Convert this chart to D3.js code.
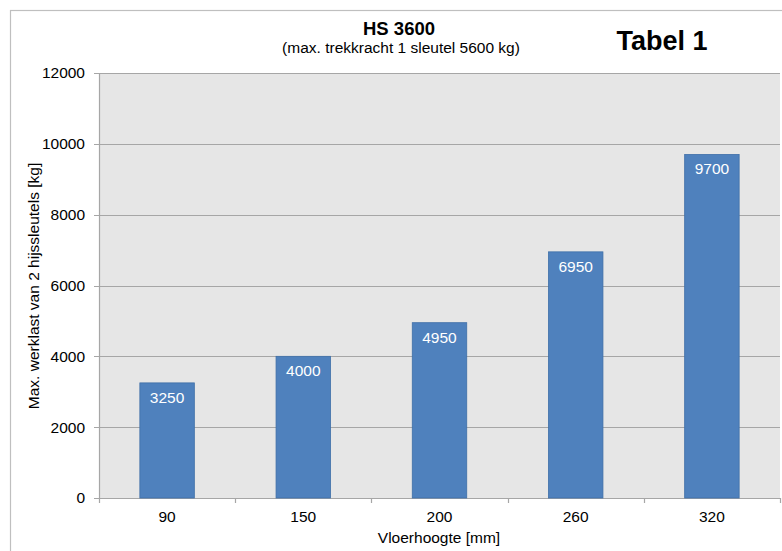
<!DOCTYPE html>
<html><head><meta charset="utf-8">
<script src="https://cdn.jsdelivr.net/npm/d3@7"></script>
<style>body{margin:0;background:#fff;} svg{display:block;font-family:"Liberation Sans",Arial,sans-serif;}</style>
</head><body>
<svg id="c" width="782" height="551"></svg>
<script>
const categories = ["90","150","200","260","320"];
const values = [3250, 4000, 4950, 6950, 9700];
const yTicks = [0,2000,4000,6000,8000,10000,12000];
const title = "HS 3600";
const subtitle = "(max. trekkracht 1 sleutel 5600 kg)";
const tag = "Tabel 1";
const xTitle = "Vloerhoogte [mm]";
const yTitle = "Max. werklast van 2 hijssleutels [kg]";

const FS = 15.5;
const svg = d3.select("#c");
const L = 99, R = 780, T = 73, B = 498;

svg.append("rect").attr("x",10.5).attr("y",10.5).attr("width",790).attr("height",560)
  .attr("fill","#fff").attr("stroke","#bfbfbf").attr("stroke-width",1.2);

const x = d3.scaleBand().domain(categories).range([L,R]).paddingInner(0.6).paddingOuter(0.3);
const xb = d3.scaleBand().domain(categories).range([L,R]);
const y = d3.scaleLinear().domain([0,12000]).range([B,T]);

svg.append("rect").attr("x",L).attr("y",T).attr("width",R-L).attr("height",B-T).attr("fill","#e6e6e6");

// gridlines
svg.append("g").selectAll("line").data(yTicks).join("line")
  .attr("x1",L-5).attr("x2",R).attr("y1",d=>Math.round(y(d))+0.5).attr("y2",d=>Math.round(y(d))+0.5)
  .attr("stroke","#a6a6a6").attr("stroke-width",1.2);

// axes
const ya = svg.append("g").attr("transform",`translate(${L},0)`)
  .call(d3.axisLeft(y).tickValues(yTicks).tickFormat(d3.format("d")).tickSize(0).tickPadding(14));
ya.select(".domain").remove();
ya.selectAll("text").attr("font-size",FS).attr("fill","#000").attr("font-family","Liberation Sans, Arial, sans-serif");
svg.append("line").attr("x1",L+0.5).attr("x2",L+0.5).attr("y1",T).attr("y2",B).attr("stroke","#a6a6a6").attr("stroke-width",1.2);

// x axis line & ticks
svg.append("line").attr("x1",L).attr("x2",R).attr("y1",B+0.5).attr("y2",B+0.5).attr("stroke","#a6a6a6").attr("stroke-width",1.2);
const bounds = categories.map(c=>xb(c)).concat([R]);
svg.append("g").selectAll("line").data(bounds).join("line")
  .attr("x1",d=>Math.round(d)+0.5).attr("x2",d=>Math.round(d)+0.5).attr("y1",B).attr("y2",B+5)
  .attr("stroke","#a6a6a6").attr("stroke-width",1.2);
svg.append("g").selectAll("text").data(categories).join("text")
  .attr("x",d=>xb(d)+xb.bandwidth()/2).attr("y",522).attr("text-anchor","middle")
  .attr("font-size",FS).text(d=>d);

// bars
const data = categories.map((c,i)=>({c,v:values[i]}));
svg.append("g").selectAll("rect").data(data).join("rect")
  .attr("x",d=>x(d.c)).attr("y",d=>y(d.v)).attr("width",x.bandwidth()).attr("height",d=>B-y(d.v))
  .attr("fill","#4f81bd").attr("stroke","#3f6fa8").attr("stroke-width",0.8);
svg.append("g").selectAll("text").data(data).join("text")
  .attr("x",d=>x(d.c)+x.bandwidth()/2).attr("y",d=>y(d.v)+20).attr("text-anchor","middle")
  .attr("font-size",FS).attr("fill","#fff").text(d=>d.v);

// titles
svg.append("text").attr("x",399).attr("y",35).attr("text-anchor","middle").attr("font-size",18.5).attr("font-weight","bold").text(title);
svg.append("text").attr("x",401).attr("y",52.5).attr("text-anchor","middle").attr("font-size",FS).text(subtitle);
svg.append("text").attr("x",662).attr("y",50).attr("text-anchor","middle").attr("font-size",27).attr("font-weight","bold").text(tag);
svg.append("text").attr("x",439).attr("y",543).attr("text-anchor","middle").attr("font-size",FS).text(xTitle);
svg.append("text").attr("transform","translate(39,286) rotate(-90)").attr("text-anchor","middle").attr("font-size",FS).text(yTitle);
</script>
</body></html>
